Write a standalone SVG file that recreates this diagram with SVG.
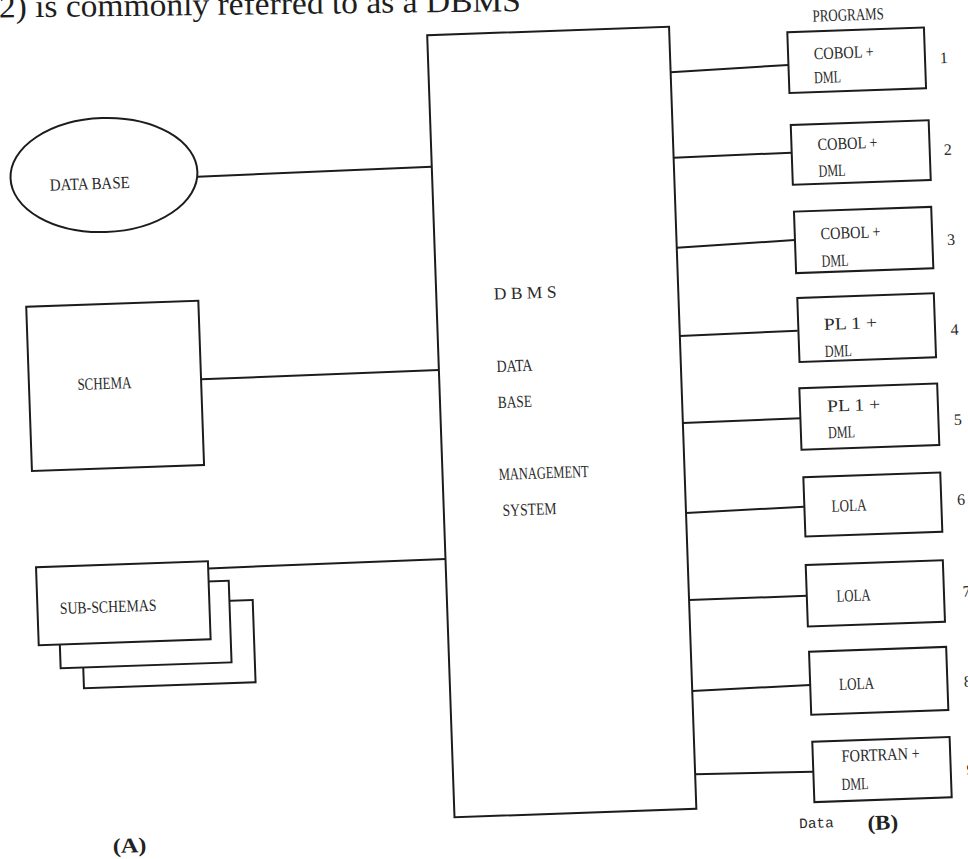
<svg xmlns="http://www.w3.org/2000/svg" width="968" height="859" viewBox="0 0 968 859">
<style>
.ln{stroke:#1c1c1c;stroke-width:2;fill:none}
.bx{stroke:#1c1c1c;stroke-width:2;fill:#fff}
.t{font-family:"Liberation Serif","DejaVu Serif",serif;font-size:17px;fill:#2a2a2a}
.n{font-family:"Liberation Serif","DejaVu Serif",serif;font-size:16px;fill:#2a2a2a}
.m{font-family:"Liberation Mono","DejaVu Sans Mono",monospace;font-size:14.5px;fill:#2a2a2a}
.cap{font-family:"Liberation Serif","DejaVu Serif",serif;font-size:21px;font-weight:bold;fill:#222}
.hd{font-family:"Liberation Serif","DejaVu Serif",serif;font-size:32px;fill:#1e1e1e}
</style>
<rect width="968" height="859" fill="#fff"/>
<text class="hd" x="-1" y="17.5" textLength="522" lengthAdjust="spacingAndGlyphs" transform="rotate(-0.7 0 18)">2) is commonly referred to as a DBMS</text>
<g transform="rotate(-2 484 430)">
<g id="connectors">
<line class="ln" x1="206.6" y1="166.8" x2="441" y2="165"/>
<line class="ln" x1="203" y1="369.5" x2="441" y2="368.4"/>
<line class="ln" x1="203.6" y1="558.7" x2="441" y2="557.6"/>
<line class="ln" x1="683" y1="79" x2="801" y2="75.8"/>
<line class="ln" x1="683" y1="164.5" x2="801" y2="163.6"/>
<line class="ln" x1="683" y1="254.5" x2="801" y2="251"/>
<line class="ln" x1="683" y1="343" x2="801" y2="341.7"/>
<line class="ln" x1="683" y1="430" x2="801" y2="429.3"/>
<line class="ln" x1="683" y1="520" x2="801" y2="517.8"/>
<line class="ln" x1="683" y1="607" x2="801" y2="607"/>
<line class="ln" x1="683" y1="698" x2="801" y2="696.2"/>
<line class="ln" x1="683" y1="781.5" x2="801" y2="783"/>
</g>
<g id="dbms">
<rect class="bx" x="441" y="33.5" width="242" height="782.5"/>
<text class="t" x="498.5" y="300" textLength="62.7" lengthAdjust="spacingAndGlyphs">D B M S</text>
<text class="t" x="498.7" y="372.5" textLength="36" lengthAdjust="spacingAndGlyphs">DATA</text>
<text class="t" x="498.8" y="408.5" textLength="34" lengthAdjust="spacingAndGlyphs">BASE</text>
<text class="t" x="497.2" y="480.5" textLength="90" lengthAdjust="spacingAndGlyphs">MANAGEMENT</text>
<text class="t" x="499.7" y="516.6" textLength="54" lengthAdjust="spacingAndGlyphs">SYSTEM</text>
</g>
<g id="database">
<ellipse class="bx" cx="113.1" cy="161.9" rx="93.5" ry="57"/>
<text class="t" x="58.6" y="175.7" textLength="80" lengthAdjust="spacingAndGlyphs">DATA BASE</text>
</g>
<g id="schema">
<rect class="bx" x="30.8" y="290.8" width="172.2" height="164.4"/>
<text class="t" x="79.3" y="375.8" textLength="54" lengthAdjust="spacingAndGlyphs">SCHEMA</text>
</g>
<g id="sub-schemas">
<rect class="bx" x="75.2" y="591.8" width="171.7" height="82.4"/>
<rect class="bx" x="52.6" y="571.7" width="171" height="81.7"/>
<rect class="bx" x="31.5" y="551.6" width="172" height="78"/>
<text class="t" x="53.8" y="599.1" textLength="96.7" lengthAdjust="spacingAndGlyphs">SUB-SCHEMAS</text>
</g>
<g id="programs-label">
<text class="t" x="826.8" y="33.4" textLength="71.3" lengthAdjust="spacingAndGlyphs">PROGRAMS</text>
</g>
<g id="prog1">
<rect class="bx" x="801" y="43.1" width="136.7" height="60.8"/>
<text class="t" x="826.7" y="71" textLength="60" lengthAdjust="spacingAndGlyphs">COBOL +</text>
<text class="t" x="826.2" y="95" textLength="27" lengthAdjust="spacingAndGlyphs">DML</text>
<text class="n" x="952.5" y="79.4">1</text>
</g>
<g id="prog2">
<rect class="bx" x="801.2" y="135.9" width="138" height="59.8"/>
<text class="t" x="827.3" y="161.8" textLength="60" lengthAdjust="spacingAndGlyphs">COBOL +</text>
<text class="t" x="827.3" y="188.5" textLength="27" lengthAdjust="spacingAndGlyphs">DML</text>
<text class="n" x="953.3" y="171.2">2</text>
</g>
<g id="prog3">
<rect class="bx" x="801.4" y="222.6" width="137.3" height="61.5"/>
<text class="t" x="827.2" y="251.2" textLength="60" lengthAdjust="spacingAndGlyphs">COBOL +</text>
<text class="t" x="827.2" y="278.6" textLength="27" lengthAdjust="spacingAndGlyphs">DML</text>
<text class="n" x="953.5" y="261.3">3</text>
</g>
<g id="prog4">
<rect class="bx" x="801.7" y="309" width="136.6" height="64.1"/>
<text class="t" x="827.3" y="341.9" textLength="53" lengthAdjust="spacingAndGlyphs">PL 1 +</text>
<text class="t" x="827.3" y="368.9" textLength="27" lengthAdjust="spacingAndGlyphs">DML</text>
<text class="n" x="953.7" y="351.3">4</text>
</g>
<g id="prog5">
<rect class="bx" x="800.6" y="399.3" width="137.9" height="61.6"/>
<text class="t" x="827.7" y="423.7" textLength="53" lengthAdjust="spacingAndGlyphs">PL 1 +</text>
<text class="t" x="827.7" y="450.3" textLength="27" lengthAdjust="spacingAndGlyphs">DML</text>
<text class="n" x="953.9" y="441.4">5</text>
</g>
<g id="prog6">
<rect class="bx" x="801.5" y="488.4" width="137" height="59.2"/>
<text class="t" x="828.6" y="523.8" textLength="35" lengthAdjust="spacingAndGlyphs">LOLA</text>
<text class="n" x="954.4" y="521.5">6</text>
</g>
<g id="prog7">
<rect class="bx" x="800.8" y="576.1" width="137.2" height="61.6"/>
<text class="t" x="830.5" y="613.9" textLength="34" lengthAdjust="spacingAndGlyphs">LOLA</text>
<text class="n" x="956.6" y="613.3">7</text>
</g>
<g id="prog8">
<rect class="bx" x="801.1" y="662.9" width="137.2" height="63.1"/>
<text class="t" x="830" y="702.2" textLength="35" lengthAdjust="spacingAndGlyphs">LOLA</text>
<text class="n" x="954.8" y="703.3">8</text>
</g>
<g id="prog9">
<rect class="bx" x="801.2" y="753" width="137.4" height="60.4"/>
<text class="t" x="829.9" y="774" textLength="78.3" lengthAdjust="spacingAndGlyphs">FORTRAN +</text>
<text class="t" x="828.9" y="802.3" textLength="27" lengthAdjust="spacingAndGlyphs">DML</text>
<text class="n" x="954.5" y="791.6">9</text>
</g>
<g id="captions">
<text class="m" x="785.2" y="839.1" textLength="34.7" lengthAdjust="spacingAndGlyphs">Data</text>
<text class="cap" x="853.5" y="843.2" textLength="30.6" lengthAdjust="spacingAndGlyphs">(B)</text>
<text class="cap" x="98.4" y="839.8" textLength="33.7" lengthAdjust="spacingAndGlyphs">(A)</text>
</g>
</g>
</svg>
